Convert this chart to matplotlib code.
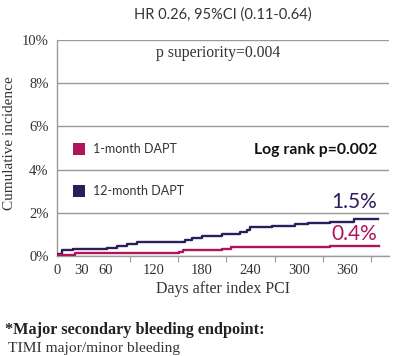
import matplotlib
matplotlib.use("Agg")
import matplotlib.pyplot as plt
from matplotlib.patches import Rectangle
from matplotlib.ticker import FixedLocator, FuncFormatter

# ---- data ----
days_12m = [0, 6, 20, 62, 75, 87, 99, 159, 167, 180, 205, 227, 236, 240, 267, 295, 311, 339, 368, 398]
inc_12m = [0.10, 0.28, 0.32, 0.38, 0.46, 0.55, 0.65, 0.74, 0.83, 0.92, 1.00, 1.10, 1.20, 1.33, 1.39, 1.46, 1.54, 1.58, 1.69, 1.69]
days_1m = [0, 22, 151, 156, 205, 216, 339, 400]
inc_1m = [0.05, 0.12, 0.20, 0.28, 0.34, 0.42, 0.48, 0.48]
x_tick_labels = [0, 30, 60, 120, 180, 240, 300, 360]
x_minor_ticks = [30, 90, 150, 210, 270, 330, 390]
y_ticks = [0, 2, 4, 6, 8, 10]
series_names = ["1-month DAPT", "12-month DAPT"]
end_labels = ["0.4%", "1.5%"]

RED = "#B0145A"
BLUE = "#2E1D5C"
GRID = "#9a9a9a"
SERIF = ["Liberation Serif", "DejaVu Serif"]
SANS = ["Lato", "DejaVu Sans"]

fig = plt.figure(figsize=(4.0, 3.56), dpi=100)
ax = fig.add_axes([0.1425, 0.2809, 0.83, 0.6067])

ax.plot(days_12m, inc_12m, drawstyle="steps-post", color=BLUE, lw=1.7, zorder=3)
ax.plot(days_1m, inc_1m, drawstyle="steps-post", color=RED, lw=1.7, zorder=3)

ax.set_xlim(0, 412)
ax.set_ylim(0, 10)
ax.yaxis.set_major_locator(FixedLocator(y_ticks))
ax.yaxis.set_major_formatter(FuncFormatter(lambda v, p: f"{int(v)}%"))
ax.xaxis.set_major_locator(FixedLocator(x_tick_labels))
ax.xaxis.set_minor_locator(FixedLocator(x_minor_ticks))
ax.tick_params(axis="x", which="major", length=0, pad=6)
ax.tick_params(axis="x", which="minor", length=4, color=GRID, width=0.8)
ax.tick_params(axis="y", which="major", length=0, pad=6)
for lab in ax.get_xticklabels() + ax.get_yticklabels():
    lab.set_family(SERIF)
    lab.set_fontsize(10.5)
    lab.set_color("#333333")

ax.grid(axis="y", color=GRID, lw=1.0)
ax.set_axisbelow(True)
for s in ["top", "right"]:
    ax.spines[s].set_visible(False)
for s in ["left", "bottom"]:
    ax.spines[s].set_color(GRID)
    ax.spines[s].set_linewidth(1.0)

fig.text(10 / 400, 1 - 143 / 356, "Cumulative incidence", family=SERIF, fontsize=11,
         color="#333333", rotation=90, ha="center", va="center")
ax.set_xlabel("Days after index PCI", family=SERIF, fontsize=11.5, color="#333333", labelpad=3)

# title and annotations
fig.text(0.557, 0.958, "HR 0.26, 95%CI (0.11-0.64)", family=SANS, fontsize=10.5,
         color="#333333", ha="center", va="center")
ax.text(0.485, 0.94, "p superiority=0.004", transform=ax.transAxes, family=SERIF,
        fontsize=11.3, color="#333333", ha="center", va="center")
ax.text(0.965, 0.49, "Log rank p=0.002", transform=ax.transAxes, family=SANS,
        fontsize=11.3, fontweight="bold", color="#111111", ha="right", va="center")

# legend
for i, (name, col) in enumerate(zip(series_names, [RED, BLUE])):
    yc = 0.495 - i * 0.195
    ax.add_patch(Rectangle((0.048, yc - 0.028), 0.037, 0.056, transform=ax.transAxes,
                           facecolor=col, edgecolor="none", clip_on=False))
    ax.text(0.108, yc, name, transform=ax.transAxes, family=SANS, fontsize=9,
            color="#333333", ha="left", va="center")

# end labels
ax.text(0.965, inc_1m[-1] + 0.55, end_labels[0], transform=ax.get_yaxis_transform(),
        family=SANS, fontsize=15, color=RED, ha="right", va="center")
ax.text(0.965, inc_12m[-1] + 0.79, end_labels[1], transform=ax.get_yaxis_transform(),
        family=SANS, fontsize=15, color=BLUE, ha="right", va="center")

# footnote
fig.text(0.012, 0.073, "*Major secondary bleeding endpoint:", family=SERIF, fontsize=11.7,
         fontweight="bold", color="#222222", ha="left", va="center")
fig.text(0.02, 0.022, "TIMI major/minor bleeding", family=SERIF, fontsize=11.1,
         color="#333333", ha="left", va="center")

fig.savefig("out.png", dpi=100)
